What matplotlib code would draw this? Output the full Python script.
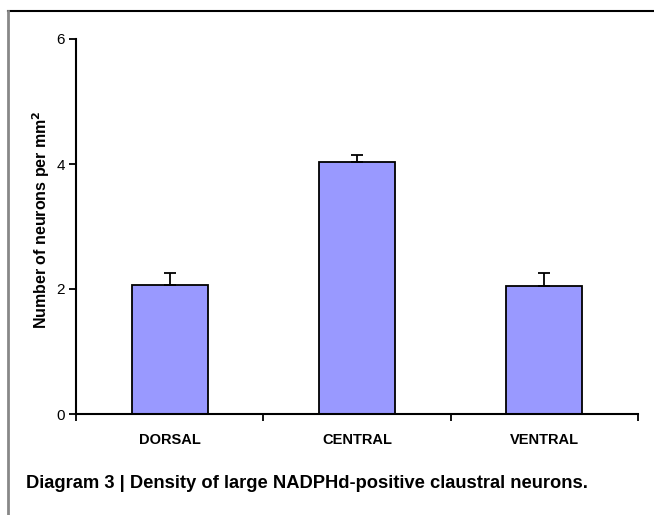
import matplotlib
matplotlib.use("Agg")
import matplotlib.pyplot as plt
from matplotlib.lines import Line2D

categories = ["DORSAL", "CENTRAL", "VENTRAL"]
values = [2.07, 4.04, 2.05]
errors = [0.19, 0.10, 0.21]
yticks = [0, 2, 4, 6]

FONT = "Liberation Sans"

fig = plt.figure(figsize=(6.54, 5.15), dpi=100)
ax = fig.add_axes([76/654, 1-414/515, (638-76)/654, (414-39)/515])

x = list(range(len(categories)))
ax.bar(x, values, width=0.405, color="#9999FF", edgecolor="black", linewidth=1.3, zorder=2)
ax.errorbar(x, values, yerr=[[0]*len(errors), errors], fmt="none", ecolor="black",
            elinewidth=1.3, capsize=4.5, capthick=1.3, zorder=3)

ax.set_xlim(-0.5, 2.5)
ax.set_ylim(0, 6)
ax.set_yticks(yticks)
ax.set_yticklabels([str(t) for t in yticks], fontsize=11, family=FONT)
ax.set_xticks(x)
ax.set_xticklabels(categories, fontsize=10.5, fontweight="bold", family=FONT)
ax.set_xticks([-0.5, 0.5, 1.5, 2.5], minor=True)
ax.tick_params(axis="x", which="major", length=0, pad=14)
ax.tick_params(axis="x", which="minor", length=5, width=1.3, direction="out")
ax.tick_params(axis="y", length=5, width=1.3, direction="out", pad=3)
for s in ["top", "right"]:
    ax.spines[s].set_visible(False)
for s in ["left", "bottom"]:
    ax.spines[s].set_linewidth(1.5)

fig.text(41/654, 1-220/515, "Number of neurons per mm$^\\mathbf{2}$", rotation=90,
         fontsize=11.5, fontweight="bold", family=FONT, ha="center", va="center")

fig.add_artist(Line2D([8/654, 1.0], [1-11/515, 1-11/515], color="black", linewidth=1.5,
                      transform=fig.transFigure))
fig.add_artist(Line2D([8/654, 8/654], [0, 1-11/515], color="#888888", linewidth=2.0,
                      transform=fig.transFigure))

fig.text(26/654, 1-483/515, "Diagram 3 | Density of large NADPHd-positive claustral neurons.",
         fontsize=13.2, fontweight="bold", family=FONT, va="center", ha="left")

fig.savefig("out.png", dpi=100)
